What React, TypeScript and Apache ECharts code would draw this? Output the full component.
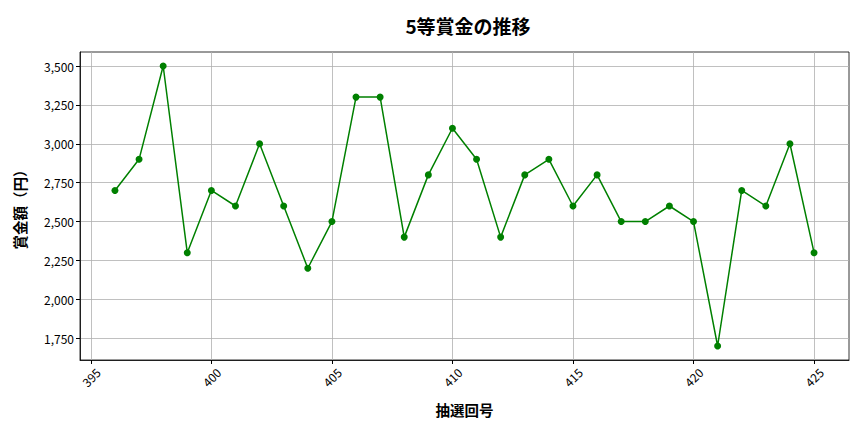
import React, { useEffect, useRef } from "react";
import * as echarts from "echarts";

const drawNumbers = [
  396, 397, 398, 399, 400, 401, 402, 403, 404, 405, 406, 407, 408, 409, 410,
  411, 412, 413, 414, 415, 416, 417, 418, 419, 420, 421, 422, 423, 424, 425,
];
const prizes = [
  2700, 2900, 3500, 2300, 2700, 2600, 3000, 2600, 2200, 2500, 3300, 3300, 2400,
  2800, 3100, 2900, 2400, 2800, 2900, 2600, 2800, 2500, 2500, 2600, 2500, 1700,
  2700, 2600, 3000, 2300,
];
const xTicks = [395, 400, 405, 410, 415, 420, 425];
const yTicks = [1750, 2000, 2250, 2500, 2750, 3000, 3250, 3500];

const FONT = "'Noto Sans CJK JP', 'Noto Sans', sans-serif";
const GRID_COLOR = "#b0b0b0";

const App: React.FC = () => {
  const chartRef = useRef<HTMLDivElement>(null);

  useEffect(() => {
    if (!chartRef.current) return undefined;
    const chart = echarts.init(chartRef.current, null, { renderer: "svg" });

    // matplotlib の既定マージン (5%)
    const xPad = (drawNumbers[drawNumbers.length - 1] - drawNumbers[0]) * 0.05;
    const yMinV = Math.min(...prizes);
    const yMaxV = Math.max(...prizes);
    const yPad = (yMaxV - yMinV) * 0.05;

    const gridLines = [
      ...xTicks.map((v) => ({ xAxis: v })),
      ...yTicks.map((v) => ({ yAxis: v })),
    ];

    const options: echarts.EChartsOption = {
      animation: false,
      textStyle: { fontFamily: FONT },
      title: {
        text: "5等賞金の推移",
        left: 463,
        top: 11,
        textAlign: "center",
        textStyle: { fontSize: 19, fontWeight: "bold", color: "#000", fontFamily: FONT },
      },
      grid: {
        left: 80,
        right: 15,
        top: 52,
        bottom: 72,
        show: true,
        borderColor: "#000",
        borderWidth: 0.8,
        backgroundColor: "transparent",
      },
      xAxis: {
        type: "value",
        min: drawNumbers[0] - xPad,
        max: drawNumbers[drawNumbers.length - 1] + xPad,
        name: "抽選回号",
        nameLocation: "middle",
        nameGap: 42,
        nameTextStyle: { fontSize: 14.5, fontWeight: "bold", color: "#000", fontFamily: FONT },
        axisLine: { onZero: false, lineStyle: { color: "#000", width: 0.8 } },
        axisTick: { show: true, length: 4, customValues: xTicks, lineStyle: { color: "#000" } },
        axisLabel: {
          customValues: xTicks,
          rotate: 45,
          align: "center",
          verticalAlign: "middle",
          fontSize: 12,
          color: "#000",
          margin: 17,
          fontFamily: FONT,
        },
        splitLine: { show: false },
      },
      yAxis: {
        type: "value",
        min: yMinV - yPad,
        max: yMaxV + yPad,
        name: "賞金額（円）",
        nameLocation: "middle",
        nameGap: 53,
        nameTextStyle: { fontSize: 14.5, fontWeight: "bold", color: "#000", fontFamily: FONT },
        axisLine: { show: true, lineStyle: { color: "#000", width: 0.8 } },
        axisTick: { show: true, length: 4, customValues: yTicks, lineStyle: { color: "#000" } },
        axisLabel: {
          customValues: yTicks,
          fontSize: 12,
          color: "#000",
          margin: 6,
          fontFamily: FONT,
          formatter: (v: number) => v.toLocaleString("en-US"),
        },
        splitLine: { show: false },
      },
      series: [
        {
          type: "line",
          data: drawNumbers.map((x, i) => [x, prizes[i]]),
          symbol: "circle",
          symbolSize: 7,
          itemStyle: { color: "#008000" },
          lineStyle: { color: "#008000", width: 1.5 },
          markLine: {
            silent: true,
            symbol: "none",
            label: { show: false },
            lineStyle: { color: GRID_COLOR, width: 0.8, type: "solid" },
            data: gridLines,
            z: 0,
          },
          z: 3,
        },
      ],
    };
    chart.setOption(options);

    return () => {
      chart.dispose();
    };
  }, []);

  return (
    <div
      ref={chartRef}
      style={{ position: "absolute", left: 0, top: 0, width: "864px", height: "432px" }}
    />
  );
};

export default App;
